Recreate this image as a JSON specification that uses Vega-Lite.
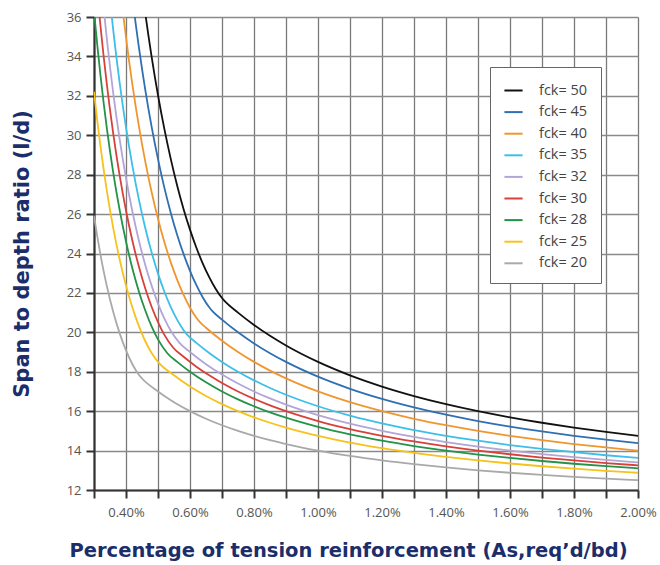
{
  "$schema": "https://vega.github.io/schema/vega-lite/v6.json",
  "width": 544,
  "height": 473,
  "autosize": {"type": "none"},
  "padding": {"left": 94, "top": 17, "right": 22, "bottom": 75},
  "background": "white",
  "config": {
    "view": {"stroke": null},
    "font": "Open Sans"
  },
  "data": {"values": [
    {"f":50,"p":0.45,"v":37.44},{"f":50,"p":0.46,"v":36.21},{"f":50,"p":0.47,"v":35.07},{"f":50,"p":0.48,"v":33.99},{"f":50,"p":0.50,"v":32.03},{"f":50,"p":0.52,"v":30.31},{"f":50,"p":0.54,"v":28.79},{"f":50,"p":0.56,"v":27.44},{"f":50,"p":0.58,"v":26.25},{"f":50,"p":0.60,"v":25.21},{"f":50,"p":0.62,"v":24.29},{"f":50,"p":0.64,"v":23.49},{"f":50,"p":0.66,"v":22.80},{"f":50,"p":0.68,"v":22.21},{"f":50,"p":0.70,"v":21.74},{"f":50,"p":0.7071,"v":21.61},{"f":50,"p":0.75,"v":21.0},{"f":50,"p":0.8,"v":20.375},{"f":50,"p":0.85,"v":19.824},{"f":50,"p":0.9,"v":19.333},{"f":50,"p":1.0,"v":18.5},{"f":50,"p":1.1,"v":17.818},{"f":50,"p":1.2,"v":17.25},{"f":50,"p":1.3,"v":16.769},{"f":50,"p":1.4,"v":16.357},{"f":50,"p":1.5,"v":16.0},{"f":50,"p":1.6,"v":15.688},{"f":50,"p":1.7,"v":15.412},{"f":50,"p":1.8,"v":15.167},{"f":50,"p":1.9,"v":14.947},{"f":50,"p":2.0,"v":14.75},
    {"f":45,"p":0.42,"v":36.98},{"f":45,"p":0.43,"v":35.69},{"f":45,"p":0.44,"v":34.50},{"f":45,"p":0.46,"v":32.33},{"f":45,"p":0.48,"v":30.44},{"f":45,"p":0.50,"v":28.79},{"f":45,"p":0.52,"v":27.33},{"f":45,"p":0.54,"v":26.06},{"f":45,"p":0.56,"v":24.94},{"f":45,"p":0.58,"v":23.97},{"f":45,"p":0.60,"v":23.12},{"f":45,"p":0.62,"v":22.39},{"f":45,"p":0.64,"v":21.77},{"f":45,"p":0.66,"v":21.27},{"f":45,"p":0.6708,"v":21.06},{"f":45,"p":0.7,"v":20.643},{"f":45,"p":0.75,"v":20.0},{"f":45,"p":0.8,"v":19.438},{"f":45,"p":0.85,"v":18.941},{"f":45,"p":0.9,"v":18.5},{"f":45,"p":1.0,"v":17.75},{"f":45,"p":1.1,"v":17.136},{"f":45,"p":1.2,"v":16.625},{"f":45,"p":1.3,"v":16.192},{"f":45,"p":1.4,"v":15.821},{"f":45,"p":1.5,"v":15.5},{"f":45,"p":1.6,"v":15.219},{"f":45,"p":1.7,"v":14.971},{"f":45,"p":1.8,"v":14.75},{"f":45,"p":1.9,"v":14.553},{"f":45,"p":2.0,"v":14.375},
    {"f":40,"p":0.38,"v":37.75},{"f":40,"p":0.39,"v":36.31},{"f":40,"p":0.40,"v":34.97},{"f":40,"p":0.42,"v":32.57},{"f":40,"p":0.44,"v":30.49},{"f":40,"p":0.46,"v":28.69},{"f":40,"p":0.48,"v":27.12},{"f":40,"p":0.50,"v":25.76},{"f":40,"p":0.52,"v":24.57},{"f":40,"p":0.54,"v":23.55},{"f":40,"p":0.56,"v":22.66},{"f":40,"p":0.58,"v":21.90},{"f":40,"p":0.60,"v":21.25},{"f":40,"p":0.62,"v":20.74},{"f":40,"p":0.6325,"v":20.49},{"f":40,"p":0.65,"v":20.231},{"f":40,"p":0.7,"v":19.571},{"f":40,"p":0.75,"v":19.0},{"f":40,"p":0.8,"v":18.5},{"f":40,"p":0.85,"v":18.059},{"f":40,"p":0.9,"v":17.667},{"f":40,"p":1.0,"v":17.0},{"f":40,"p":1.1,"v":16.455},{"f":40,"p":1.2,"v":16.0},{"f":40,"p":1.3,"v":15.615},{"f":40,"p":1.4,"v":15.286},{"f":40,"p":1.5,"v":15.0},{"f":40,"p":1.6,"v":14.75},{"f":40,"p":1.7,"v":14.529},{"f":40,"p":1.8,"v":14.333},{"f":40,"p":1.9,"v":14.158},{"f":40,"p":2.0,"v":14.0},
    {"f":35,"p":0.35,"v":36.86},{"f":35,"p":0.36,"v":35.35},{"f":35,"p":0.38,"v":32.68},{"f":35,"p":0.40,"v":30.40},{"f":35,"p":0.42,"v":28.45},{"f":35,"p":0.44,"v":26.76},{"f":35,"p":0.46,"v":25.31},{"f":35,"p":0.48,"v":24.06},{"f":35,"p":0.50,"v":22.98},{"f":35,"p":0.52,"v":22.06},{"f":35,"p":0.54,"v":21.28},{"f":35,"p":0.56,"v":20.63},{"f":35,"p":0.58,"v":20.11},{"f":35,"p":0.5916,"v":19.87},{"f":35,"p":0.62,"v":19.468},{"f":35,"p":0.66,"v":18.955},{"f":35,"p":0.7,"v":18.5},{"f":35,"p":0.75,"v":18.0},{"f":35,"p":0.8,"v":17.563},{"f":35,"p":0.85,"v":17.176},{"f":35,"p":0.9,"v":16.833},{"f":35,"p":1.0,"v":16.25},{"f":35,"p":1.1,"v":15.773},{"f":35,"p":1.2,"v":15.375},{"f":35,"p":1.3,"v":15.038},{"f":35,"p":1.4,"v":14.75},{"f":35,"p":1.5,"v":14.5},{"f":35,"p":1.6,"v":14.281},{"f":35,"p":1.7,"v":14.088},{"f":35,"p":1.8,"v":13.917},{"f":35,"p":1.9,"v":13.763},{"f":35,"p":2.0,"v":13.625},
    {"f":32,"p":0.33,"v":36.47},{"f":32,"p":0.34,"v":34.91},{"f":32,"p":0.36,"v":32.15},{"f":32,"p":0.38,"v":29.82},{"f":32,"p":0.40,"v":27.83},{"f":32,"p":0.42,"v":26.13},{"f":32,"p":0.44,"v":24.67},{"f":32,"p":0.46,"v":23.43},{"f":32,"p":0.48,"v":22.37},{"f":32,"p":0.50,"v":21.46},{"f":32,"p":0.52,"v":20.70},{"f":32,"p":0.54,"v":20.08},{"f":32,"p":0.5657,"v":19.49},{"f":32,"p":0.6,"v":19.0},{"f":32,"p":0.65,"v":18.385},{"f":32,"p":0.7,"v":17.857},{"f":32,"p":0.75,"v":17.4},{"f":32,"p":0.8,"v":17.0},{"f":32,"p":0.85,"v":16.647},{"f":32,"p":0.9,"v":16.333},{"f":32,"p":1.0,"v":15.8},{"f":32,"p":1.1,"v":15.364},{"f":32,"p":1.2,"v":15.0},{"f":32,"p":1.3,"v":14.692},{"f":32,"p":1.4,"v":14.429},{"f":32,"p":1.5,"v":14.2},{"f":32,"p":1.6,"v":14.0},{"f":32,"p":1.7,"v":13.824},{"f":32,"p":1.8,"v":13.667},{"f":32,"p":1.9,"v":13.526},{"f":32,"p":2.0,"v":13.4},
    {"f":30,"p":0.31,"v":37.29},{"f":30,"p":0.32,"v":35.58},{"f":30,"p":0.34,"v":32.60},{"f":30,"p":0.36,"v":30.10},{"f":30,"p":0.38,"v":27.98},{"f":30,"p":0.40,"v":26.18},{"f":30,"p":0.42,"v":24.65},{"f":30,"p":0.44,"v":23.35},{"f":30,"p":0.46,"v":22.24},{"f":30,"p":0.48,"v":21.30},{"f":30,"p":0.50,"v":20.52},{"f":30,"p":0.52,"v":19.87},{"f":30,"p":0.5477,"v":19.22},{"f":30,"p":0.58,"v":18.759},{"f":30,"p":0.62,"v":18.258},{"f":30,"p":0.66,"v":17.818},{"f":30,"p":0.7,"v":17.429},{"f":30,"p":0.75,"v":17.0},{"f":30,"p":0.8,"v":16.625},{"f":30,"p":0.85,"v":16.294},{"f":30,"p":0.9,"v":16.0},{"f":30,"p":1.0,"v":15.5},{"f":30,"p":1.1,"v":15.091},{"f":30,"p":1.2,"v":14.75},{"f":30,"p":1.3,"v":14.462},{"f":30,"p":1.4,"v":14.214},{"f":30,"p":1.5,"v":14.0},{"f":30,"p":1.6,"v":13.813},{"f":30,"p":1.7,"v":13.647},{"f":30,"p":1.8,"v":13.5},{"f":30,"p":1.9,"v":13.368},{"f":30,"p":2.0,"v":13.25},
    {"f":28,"p":0.30,"v":36.30},{"f":28,"p":0.31,"v":34.61},{"f":28,"p":0.32,"v":33.07},{"f":28,"p":0.34,"v":30.38},{"f":28,"p":0.36,"v":28.12},{"f":28,"p":0.38,"v":26.22},{"f":28,"p":0.40,"v":24.61},{"f":28,"p":0.42,"v":23.24},{"f":28,"p":0.44,"v":22.09},{"f":28,"p":0.46,"v":21.12},{"f":28,"p":0.48,"v":20.30},{"f":28,"p":0.50,"v":19.64},{"f":28,"p":0.5292,"v":18.94},{"f":28,"p":0.56,"v":18.5},{"f":28,"p":0.6,"v":18.0},{"f":28,"p":0.65,"v":17.462},{"f":28,"p":0.7,"v":17.0},{"f":28,"p":0.75,"v":16.6},{"f":28,"p":0.8,"v":16.25},{"f":28,"p":0.85,"v":15.941},{"f":28,"p":0.9,"v":15.667},{"f":28,"p":1.0,"v":15.2},{"f":28,"p":1.1,"v":14.818},{"f":28,"p":1.2,"v":14.5},{"f":28,"p":1.3,"v":14.231},{"f":28,"p":1.4,"v":14.0},{"f":28,"p":1.5,"v":13.8},{"f":28,"p":1.6,"v":13.625},{"f":28,"p":1.7,"v":13.471},{"f":28,"p":1.8,"v":13.333},{"f":28,"p":1.9,"v":13.211},{"f":28,"p":2.0,"v":13.1},
    {"f":25,"p":0.30,"v":32.21},{"f":25,"p":0.31,"v":30.77},{"f":25,"p":0.32,"v":29.47},{"f":25,"p":0.34,"v":27.19},{"f":25,"p":0.36,"v":25.30},{"f":25,"p":0.38,"v":23.71},{"f":25,"p":0.40,"v":22.375},{"f":25,"p":0.42,"v":21.26},{"f":25,"p":0.44,"v":20.33},{"f":25,"p":0.46,"v":19.56},{"f":25,"p":0.48,"v":18.95},{"f":25,"p":0.50,"v":18.5},{"f":25,"p":0.55,"v":17.818},{"f":25,"p":0.6,"v":17.25},{"f":25,"p":0.65,"v":16.769},{"f":25,"p":0.7,"v":16.357},{"f":25,"p":0.75,"v":16.0},{"f":25,"p":0.8,"v":15.688},{"f":25,"p":0.85,"v":15.412},{"f":25,"p":0.9,"v":15.167},{"f":25,"p":1.0,"v":14.75},{"f":25,"p":1.1,"v":14.409},{"f":25,"p":1.2,"v":14.125},{"f":25,"p":1.3,"v":13.885},{"f":25,"p":1.4,"v":13.679},{"f":25,"p":1.5,"v":13.5},{"f":25,"p":1.6,"v":13.344},{"f":25,"p":1.7,"v":13.206},{"f":25,"p":1.8,"v":13.083},{"f":25,"p":1.9,"v":12.974},{"f":25,"p":2.0,"v":12.875},
    {"f":20,"p":0.30,"v":25.92},{"f":20,"p":0.31,"v":24.89},{"f":20,"p":0.32,"v":23.96},{"f":20,"p":0.33,"v":23.12},{"f":20,"p":0.34,"v":22.36},{"f":20,"p":0.36,"v":21.04},{"f":20,"p":0.38,"v":19.96},{"f":20,"p":0.40,"v":19.08},{"f":20,"p":0.42,"v":18.38},{"f":20,"p":0.44,"v":17.85},{"f":20,"p":0.4472,"v":17.71},{"f":20,"p":0.5,"v":17.0},{"f":20,"p":0.55,"v":16.455},{"f":20,"p":0.6,"v":16.0},{"f":20,"p":0.65,"v":15.615},{"f":20,"p":0.7,"v":15.286},{"f":20,"p":0.75,"v":15.0},{"f":20,"p":0.8,"v":14.75},{"f":20,"p":0.85,"v":14.529},{"f":20,"p":0.9,"v":14.333},{"f":20,"p":1.0,"v":14.0},{"f":20,"p":1.1,"v":13.727},{"f":20,"p":1.2,"v":13.5},{"f":20,"p":1.3,"v":13.308},{"f":20,"p":1.4,"v":13.143},{"f":20,"p":1.5,"v":13.0},{"f":20,"p":1.6,"v":12.875},{"f":20,"p":1.7,"v":12.765},{"f":20,"p":1.8,"v":12.667},{"f":20,"p":1.9,"v":12.579},{"f":20,"p":2.0,"v":12.5}
  ]},
  "mark": {"type": "line", "clip": true, "strokeWidth": 1.8, "interpolate": "monotone"},
  "encoding": {
    "x": {
      "field": "p", "type": "quantitative",
      "scale": {"domain": [0.3, 2.0], "nice": false, "zero": false},
      "axis": {
        "values": [0.3,0.4,0.5,0.6,0.7,0.8,0.9,1.0,1.1,1.2,1.3,1.4,1.5,1.6,1.7,1.8,1.9,2.0],
        "labelExpr": "(round(datum.value*10) % 2 == 0 && datum.value > 0.35) ? format(datum.value, '.2f') + '%' : ''",
        "grid": true, "gridColor": "#7a7a7a", "gridWidth": 1.3, "gridOpacity": 1,
        "domainColor": "#333", "domainWidth": 2.2,
        "tickColor": "#333", "tickWidth": 2, "tickSize": 8,
        "labelFont": "Open Sans", "labelFontSize": 13, "labelColor": "#555", "labelPadding": 8,
        "labelFlush": false, "labelOverlap": false,
        "title": "Percentage of tension reinforcement (As,req’d/bd)",
        "titleFont": "DejaVu Sans", "titleFontSize": 19.5, "titleFontWeight": "bold", "titleColor": "#1b2d6b",
        "titlePadding": 22, "titleX": 254, "titleAlign": "center"
      }
    },
    "y": {
      "field": "v", "type": "quantitative",
      "scale": {"domain": [12, 36], "nice": false, "zero": false},
      "axis": {
        "values": [12,14,16,18,20,22,24,26,28,30,32,34,36],
        "grid": true, "gridColor": "#8a8a8a", "gridWidth": 1.3, "gridOpacity": 1,
        "domainColor": "#333", "domainWidth": 2.2,
        "tickColor": "#333", "tickWidth": 2, "tickSize": 8,
        "labelFont": "Open Sans", "labelFontSize": 13, "labelColor": "#555", "labelPadding": 5,
        "title": "Span to depth ratio (l/d)",
        "titleFont": "DejaVu Sans", "titleFontSize": 21, "titleFontWeight": "bold", "titleColor": "#1b2d6b",
        "titlePadding": 34
      }
    },
    "color": {
      "field": "f", "type": "nominal",
      "sort": [50,45,40,35,32,30,28,25,20],
      "scale": {
        "domain": [50,45,40,35,32,30,28,25,20],
        "range": ["#111111","#2f6fb3","#f0962e","#3cbfe9","#b3a5d6","#d8413a","#239348","#f6c21c","#a9a9a9"]
      },
      "legend": {
        "orient": "none", "legendX": 396, "legendY": 50,
        "title": null,
        "labelExpr": "'fck= ' + datum.label",
        "fillColor": "white", "strokeColor": "#666", "padding": 13,
        "symbolType": "stroke", "symbolSize": 330, "symbolStrokeWidth": 2,
        "labelFont": "Open Sans", "labelFontSize": 14.5, "labelColor": "#444",
        "rowPadding": 4.6, "labelOffset": 15
      }
    }
  }
}
